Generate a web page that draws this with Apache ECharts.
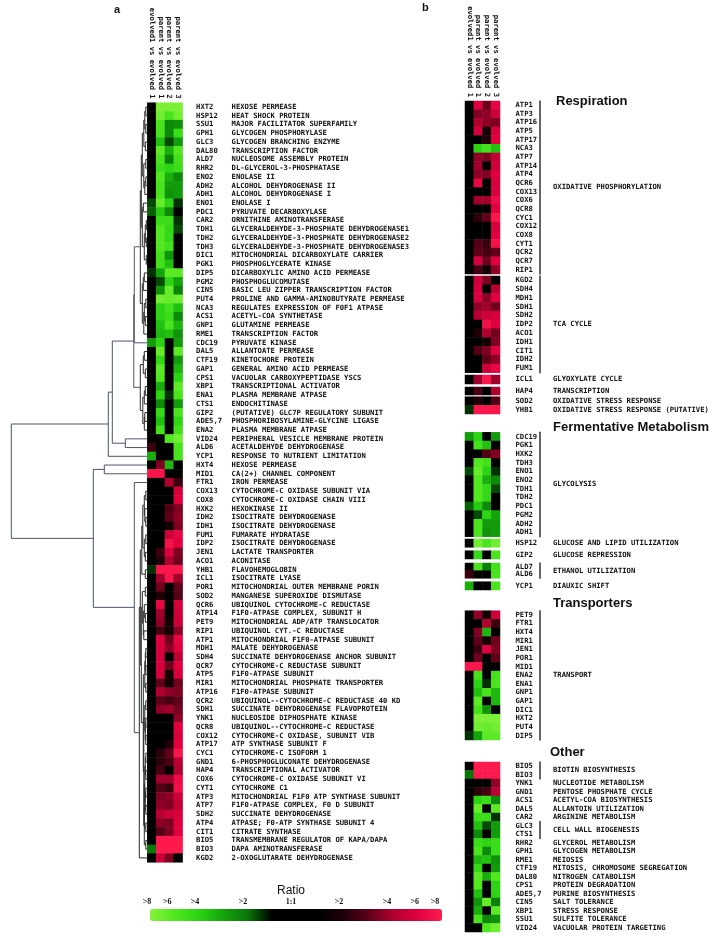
<!DOCTYPE html>
<html>
<head>
<meta charset="utf-8">
<style>html,body{margin:0;padding:0;background:#fff}#c{width:714px;height:938px}</style>
<script src="https://cdn.jsdelivr.net/npm/echarts@6/dist/echarts.min.js"></script>
</head>
<body>
<div id="c"></div>
<script>
const columnNames = ['evolved1 vs evolved 1','parent vs evolved 1','parent vs evolved 2','parent vs evolved 3'];

const genes = ['HXT2','HSP12','SSU1','GPH1','GLC3','DAL80','ALD7','RHR2','ENO2','ADH2',
'ADH1','ENO1','PDC1','CAR2','TDH1','TDH2','TDH3','DIC1','PGK1','DIP5',
'PGM2','CIN5','PUT4','NCA3','ACS1','GNP1','RME1','CDC19','DAL5','CTF19',
'GAP1','CPS1','XBP1','ENA1','CTS1','GIP2','ADE5,7','ENA2','VID24','ALD6',
'YCP1','HXT4','MID1','FTR1','COX13','COX8','HXK2','IDH2','IDH1','FUM1',
'IDP2','JEN1','ACO1','YHB1','ICL1','POR1','SOD2','QCR6','ATP14','PET9',
'RIP1','ATP1','MDH1','SDH4','QCR7','ATP5','MIR1','ATP16','QCR2','SDH1',
'YNK1','QCR8','COX12','ATP17','CYC1','GND1','HAP4','COX6','CYT1','ATP3',
'ATP7','SDH2','ATP4','CIT1','BIO5','BIO3','KGD2'];

const descriptions = ['HEXOSE PERMEASE','HEAT SHOCK PROTEIN','MAJOR FACILITATOR SUPERFAMILY','GLYCOGEN PHOSPHORYLASE','GLYCOGEN BRANCHING ENZYME','TRANSCRIPTION FACTOR','NUCLEOSOME ASSEMBLY PROTEIN','DL-GLYCEROL-3-PHOSPHATASE','ENOLASE II','ALCOHOL DEHYDROGENASE II',
'ALCOHOL DEHYDROGENASE I','ENOLASE I','PYRUVATE DECARBOXYLASE','ORNITHINE AMINOTRANSFERASE','GLYCERALDEHYDE-3-PHOSPHATE DEHYDROGENASE1','GLYCERALDEHYDE-3-PHOSPHATE DEHYDROGENASE2','GLYCERALDEHYDE-3-PHOSPHATE DEHYDROGENASE3','MITOCHONDRIAL DICARBOXYLATE CARRIER','PHOSPHOGLYCERATE KINASE','DICARBOXYLIC AMINO ACID PERMEASE',
'PHOSPHOGLUCOMUTASE','BASIC LEU ZIPPER TRANSCRIPTION FACTOR','PROLINE AND GAMMA-AMINOBUTYRATE PERMEASE','REGULATES EXPRESSION OF F0F1 ATPASE','ACETYL-COA SYNTHETASE','GLUTAMINE PERMEASE','TRANSCRIPTION FACTOR','PYRUVATE KINASE','ALLANTOATE PERMEASE','KINETOCHORE PROTEIN',
'GENERAL AMINO ACID PERMEASE','VACUOLAR CARBOXYPEPTIDASE YSCS','TRANSCRIPTIONAL ACTIVATOR','PLASMA MEMBRANE ATPASE','ENDOCHITINASE','(PUTATIVE) GLC7P REGULATORY SUBUNIT','PHOSPHORIBOSYLAMINE-GLYCINE LIGASE','PLASMA MEMBRANE ATPASE','PERIPHERAL VESICLE MEMBRANE PROTEIN','ACETALDEHYDE DEHYDROGENASE',
'RESPONSE TO NUTRIENT LIMITATION','HEXOSE PERMEASE','CA(2+) CHANNEL COMPONENT','IRON PERMEASE','CYTOCHROME-C OXIDASE SUBUNIT VIA','CYTOCHROME-C OXIDASE CHAIN VIII','HEXOKINASE II','ISOCITRATE DEHYDROGENASE','ISOCITRATE DEHYDROGENASE','FUMARATE HYDRATASE',
'ISOCITRATE DEHYDROGENASE','LACTATE TRANSPORTER','ACONITASE','FLAVOHEMOGLOBIN','ISOCITRATE LYASE','MITOCHONDRIAL OUTER MEMBRANE PORIN','MANGANESE SUPEROXIDE DISMUTASE','UBIQUINOL CYTOCHROME-C REDUCTASE','F1F0-ATPASE COMPLEX, SUBUNIT H','MITOCHONDRIAL ADP/ATP TRANSLOCATOR',
'UBIQUINOL CYT.-C REDUCTASE','MITOCHONDRIAL F1F0-ATPASE SUBUNIT','MALATE DEHYDROGENASE','SUCCINATE DEHYDROGENASE ANCHOR SUBUNIT','CYTOCHROME-C REDUCTASE SUBUNIT','F1F0-ATPASE SUBUNIT','MITOCHONDRIAL PHOSPHATE TRANSPORTER','F1F0-ATPASE SUBUNIT','UBIQUINOL--CYTOCHROME-C REDUCTASE 40 KD','SUCCINATE DEHYDROGENASE FLAVOPROTEIN',
'NUCLEOSIDE DIPHOSPHATE KINASE','UBIQUINOL--CYTOCHROME-C REDUCTASE','CYTOCHROME-C OXIDASE, SUBUNIT VIB','ATP SYNTHASE SUBUNIT F','CYTOCHROME-C ISOFORM 1','6-PHOSPHOGLUCONATE DEHYDROGENASE','TRANSCRIPTIONAL ACTIVATOR','CYTOCHROME-C OXIDASE SUBUNIT VI','CYTOCHROME C1','MITOCHONDRIAL F1F0 ATP SYNTHASE SUBUNIT',
'F1F0-ATPASE COMPLEX, F0 D SUBUNIT','SUCCINATE DEHYDROGENASE','ATPASE; F0-ATP SYNTHASE SUBUNIT 4','CITRATE SYNTHASE','TRANSMEMBRANE REGULATOR OF KAPA/DAPA','DAPA AMINOTRANSFERASE','2-OXOGLUTARATE DEHYDROGENASE'];

const evolvedVsEvolved1 = [0,0,0,0,0,0,0,0,0,0,
0,-0.8,-0.9,0,0,0,0,0,0,-0.7,
0,0,0,0,0,0,0,-1.4,0,0,
0,0,0,0,0,0,0,0,0,1.2,
-1.6,0,2.9,0,0,0,0,0,0,0,
0,0,0,-0.7,0,0,0,0,0,0,
0,0,0,0,0,0,0,0,0,0,
0,0,0,0,0,0,0,0,0,0,
0,0,0,0,0,-1,0];
const parentVsEvolved1 = [-2.9,-2.8,-2.4,-2.4,-1.8,-2.6,-2.4,-2.2,-2.5,-2.4,
-2.4,-2.7,-1.9,-2.2,-2.5,-2.5,-2.5,-2.3,-2.3,-1.5,
-0.8,-1.3,-2.8,-2,-2,-1.8,-1.7,-2,-2.7,-2.1,
-2.6,-2.5,-1.6,-2,-1.2,-2.1,-1.8,-2.3,0,0,
0,1.7,2.9,0,0,0,0,0,0,0,
0,1.2,1,2.9,1.9,1.6,1,2.6,1.9,1.8,
1.3,2.5,2.4,2.4,2.4,2.4,1.5,2,1.5,1.8,
0,0.5,0.5,0,1.1,1.1,1.3,1.9,1.4,1.7,
1.8,2.1,1.8,1.4,2.95,2.95,2.3];
const parentVsEvolved2 = [-2.9,-2.4,-1.2,-1.2,-0.8,-1.6,-1.1,-2,-1.6,-1.4,
-1.3,-2,-1.2,-2.2,-2.1,-2.1,-2.3,-1.3,-1.8,-2.6,
-2,-2.7,-2.7,-2.3,-2.2,-2.4,-1.8,0,0,0,
0,-0.5,0,-0.7,0,0,0,0,-2.5,0,
0,-1.7,0,2,0,0,1.4,1.5,0.8,2.3,
2.8,2.5,2,2.9,2.9,0,0,0,0,0.8,
0.8,1.6,1.8,0.5,1.6,0.8,0.8,1.8,1.3,1.9,
0,0,0,1,1.5,1.3,0,1.9,1.2,1.8,
1.7,2.3,1.7,1.7,2.95,2.95,1.7];
const parentVsEvolved3 = [-2.9,-2.8,-1.3,-2.2,-1.4,-2.5,-2.3,-2.2,-1.2,-1.4,
-1.4,-0.7,0,-0.7,-0.8,0,-0.5,0,0,-2.6,
-1.5,-1.1,-2.8,-1.8,-1.2,-1.7,-1.3,-1.4,-2.6,-1.4,
-1.7,-2,-2.6,-2.4,-1.4,-2.4,-2,-2.3,-2.8,-2.4,
-2.4,0,0,1.2,2.4,2.5,1.7,1.8,1.7,2.6,
2.5,1.7,1.6,2.9,1.9,1.5,1.4,2.4,2.3,2.3,
1.8,2.6,2.5,2.1,2.5,2.4,1.6,1.7,1.5,1.6,
1.8,2.5,2.4,2.5,2.9,2.1,2,2.7,2.8,2.3,
2.2,2.4,2.5,2.5,2.95,2.95,0.4];

// dendrogram merges: [height, top row, bottom row, height of top child, height of bottom child]
const dendrogramLinks = [
[1.5,0.5,1.5,0,0],[1.5,2.5,3.5,0,0],[2.5,1,3,1.5,1.5],[2,4.5,5.5,0,0],[3.5,2,5,2.5,2],
[1.5,6.5,7.5,0,0],[1.5,8.5,9.5,0,0],[2.5,9,10.5,1.5,0],[3.5,7,9.75,1.5,2.5],[5,3.5,8.4,3.5,3.5],
[4,11.5,12.5,0,0],[1,13.5,14.5,0,0],[1,15.5,16.5,0,0],[2,14,16,1,1],[1,17.5,18.5,0,0],[3,15,18,2,1],[5,12,16.5,4,3],[6,6,14.25,5,5],
[3,19.5,20.5,0,0],[4,20,21.5,3,0],[1.5,22.5,23.5,0,0],[2,24.5,25.5,0,0],[3,23,25,1.5,2],[3.5,24,26.5,3,0],[5,20.75,25.25,4,3.5],[7,10.1,23,6,5],
[13,16.5,27.5,7,0],
[3,28.5,29.5,0,0],[2,30.5,31.5,0,0],[4,29,31,3,2],[2,32.5,33.5,0,0],[3,33,34.5,2,0],[2.5,35.5,36.5,0,0],[3,36,37.5,2.5,0],[4.5,33.75,36.75,3,3],[7,30,35.25,4,4.5],
[13.5,22,32.6,13,7],[22,38.5,39.5,0,0],[35,27.3,39,13.5,22],[39,33.15,40.5,35,0],
[43,41.5,42.5,0,0],
[1.5,44.5,45.5,0,0],[1.5,47.5,48.5,0,0],[2.5,46.5,48,0,1.5],[3,45,47.25,1.5,2.5],[1.5,49.5,50.5,0,0],[2,51.5,52.5,0,0],[3,50,52,1.5,2],[4.5,46.1,51,3,3],[2,53.5,54.5,0,0],[5.5,48.5,54,4.5,2],
[2,55.5,56.5,0,0],[2,58.5,59.5,0,0],[3,57.5,59,0,2],[3.5,60.5,61.5,0,0],[4,58.25,61,3,3.5],[5,56,59.6,2,4],
[1.5,62.5,63.5,0,0],[1.5,64.5,65.5,0,0],[2,63,65,1.5,1.5],[1.5,66.5,67.5,0,0],[2.5,64,67,2,1.5],[1.5,68.5,69.5,0,0],[1.5,70.5,71.5,0,0],[1.5,72.5,73.5,0,0],[2,71,73,1.5,1.5],[2.5,69,72,1.5,2],
[1.5,74.5,75.5,0,0],[1.5,76.5,77.5,0,0],[2,75,77,1.5,1.5],[1.5,78.5,79.5,0,0],[1.5,80.5,81.5,0,0],[2,79,81,1.5,1.5],[2.5,76,80,2,2],[1.5,82.5,83.5,0,0],[3,78,83,2.5,1.5],[1.5,84.5,85.5,0,0],[3,80.5,85,3,1.5],[3.5,70.5,82.75,2.5,3],[4,65.5,76.6,2.5,3.5],
[6,57.8,71,5,4],[7,51.25,64.4,5.5,6],[8,57.8,86.5,7,0],[13,43.5,72.15,0,8],[54,42,57.8,43,13],[136,36.8,49.9,39,54]
];

// panel b groups
const oxphosGenes = ['ATP1','ATP3','ATP16','ATP5','ATP17','NCA3','ATP7','ATP14','ATP4','QCR6','COX13','COX6','QCR8','CYC1','COX12','COX8','CYT1','QCR2','QCR7','RIP1'];
const tcaGenes = ['KGD2','SDH4','MDH1','SDH1','SDH2','IDP2','ACO1','IDH1','CIT1','IDH2','FUM1'];
const glycolysisGenes = ['CDC19','PGK1','HXK2','TDH3','ENO1','ENO2','TDH1','TDH2','PDC1','PGM2','ADH2','ADH1'];
const transportGenes = ['PET9','FTR1','HXT4','MIR1','JEN1','POR1','MID1','ENA2','ENA1','GNP1','GAP1','DIC1','HXT2','PUT4','DIP5'];
const otherGenesA = ['YNK1','GND1','ACS1','DAL5','CAR2'];
const otherLabelsA = ['NUCLEOTIDE METABOLISM','PENTOSE PHOSPHATE CYCLE','ACETYL-COA BIOSYNTHESIS','ALLANTOIN UTILIZATION','ARGININE METABOLISM'];
const otherGenesB = ['RHR2','GPH1','RME1','CTF19','DAL80','CPS1','ADE5,7','CIN5','XBP1','SSU1','VID24'];
const otherLabelsB = ['GLYCEROL METABOLISM','GLYCOGEN METABOLISM','MEIOSIS','MITOSIS, CHROMOSOME SEGREGATION','NITROGEN CATABOLISM','PROTEIN DEGRADATION','PURINE BIOSYNTHESIS','SALT TOLERANCE','STRESS RESPONSE','SULFITE TOLERANCE','VACUOLAR PROTEIN TARGETING'];

const legendTickValues = [-3,-2.58,-2,-1,0,1,2,2.58,3];
const legendTickLabels = ['>8','>6','>4','>2','1:1','>2','>4','>6','>8'];
const sectionTitles = ['Respiration','Fermentative Metabolism','Transporters','Other'];

// layout
const panelBGroups = [
 {genes:oxphosGenes, labels:['OXIDATIVE PHOSPHORYLATION'], bar:true, top:101, bottom:274},
 {genes:tcaGenes, labels:['TCA CYCLE'], bar:true, top:276, bottom:372.7},
 {genes:['ICL1'], labels:['GLYOXYLATE CYCLE'], top:375, bottom:384},
 {genes:['HAP4'], labels:['TRANSCRIPTION'], top:387, bottom:395},
 {genes:['SOD2','YHB1'], labels:['OXIDATIVE STRESS RESPONSE','OXIDATIVE STRESS RESPONSE (PUTATIVE)'], top:396.7, bottom:414},
 {genes:glycolysisGenes, labels:['GLYCOLYSIS'], bar:true, top:432.3, bottom:536.7},
 {genes:['HSP12'], labels:['GLUCOSE AND LIPID UTILIZATION'], top:539, bottom:547.3},
 {genes:['GIP2'], labels:['GLUCOSE REPRESSION'], top:550.7, bottom:559},
 {genes:['ALD7','ALD6'], labels:['ETHANOL UTILIZATION'], bar:true, top:563, bottom:578.3},
 {genes:['YCP1'], labels:['DIAUXIC SHIFT'], top:581.7, bottom:590},
 {genes:transportGenes, labels:['TRANSPORT'], bar:true, top:610.7, bottom:740},
 {genes:['BIO5','BIO3'], labels:['BIOTIN BIOSYNTHESIS'], bar:true, top:762, bottom:779},
 {genes:otherGenesA, labels:otherLabelsA, top:779, bottom:821.5},
 {genes:['GLC3','CTS1'], labels:['CELL WALL BIOGENESIS'], bar:true, top:821.5, bottom:838.5},
 {genes:otherGenesB, labels:otherLabelsB, top:838.5, bottom:932}
];
const MONO = {fontFamily:'"DejaVu Sans Mono"', fontWeight:'bold', fontSize:7.2, color:'#111'};
const columns = [evolvedVsEvolved1, parentVsEvolved1, parentVsEvolved2, parentVsEvolved3];
const heatCells = list => {
  const out = [];
  list.forEach((g, r) => { const i = genes.indexOf(g); columns.forEach((c, k) => out.push([k, r, c[i]])); });
  return out;
};

const grid = [], xAxis = [], yAxis = [], series = [];
function addHeat(left, width, top, height, list, showCols, geneMargin, labels, labelOffset, labelMargin, bar) {
  const g = grid.length;
  grid.push({left, top, width, height, outerBoundsMode:'none', containLabel:false});
  xAxis.push({gridIndex:g, type:'category', position:'top', data:columnNames, show:showCols,
    axisLine:{show:false}, axisTick:{show:false}, splitLine:{show:false},
    axisLabel:{show:showCols, interval:0, rotate:90, margin:4, ...MONO}});
  const yi = yAxis.length;
  yAxis.push({gridIndex:g, type:'category', position:'right', inverse:true, data:list,
    axisLine:{show:false}, axisTick:{show:false}, splitLine:{show:false},
    axisLabel:{interval:0, margin:geneMargin, ...MONO}});
  yAxis.push({gridIndex:g, type:'category', position:'right', inverse:true, data:labels, offset:labelOffset,
    axisLine:{show:!!bar, onZero:false, lineStyle:{color:'#333', width:1.5}}, axisTick:{show:false}, splitLine:{show:false},
    axisLabel:{interval:0, margin:labelMargin, ...MONO}});
  series.push({type:'heatmap', xAxisIndex:xAxis.length-1, yAxisIndex:yi, data:heatCells(list),
    silent:true, progressive:0, emphasis:{disabled:true}, itemStyle:{borderWidth:0}});
}
addHeat(147.3, 35.3, 102.7, 759.6, genes, true, 13.5, descriptions, 35, 14, false);
panelBGroups.forEach((p, i) => addHeat(465, 35, p.top, p.bottom - p.top, p.genes, i === 0, 15.5, p.labels, 40, 13, p.bar));
const heatIdx = series.map((_, i) => i);

// dendrogram
const dg = grid.length;
grid.push({left:0, top:102.7, width:147.3, height:759.6, outerBoundsMode:'none'});
xAxis.push({gridIndex:dg, type:'value', min:0, max:147.3, inverse:true, show:false});
yAxis.push({gridIndex:dg, type:'value', min:0, max:87, inverse:true, show:false});
series.push({type:'custom', xAxisIndex:xAxis.length-1, yAxisIndex:yAxis.length-1, silent:true, clip:false,
  encode:{x:[0,3,4], y:[1,2]}, data:dendrogramLinks,
  renderItem(params, api) {
    const h = api.value(0), r0 = api.value(1), r1 = api.value(2), c0 = api.value(3), c1 = api.value(4);
    const pts = [[c0,r0],[h,r0],[h,r1],[c1,r1]].map(p => api.coord(p));
    return {type:'polyline', shape:{points:pts}, style:{fill:null, stroke: h > 8 ? '#4c5468' : '#2a2a2a', lineWidth:1}};
  }});

// colour legend axis
const lg = grid.length;
grid.push({left:147, top:909, width:288, height:12, outerBoundsMode:'none'});
xAxis.push({gridIndex:lg, type:'value', position:'top', min:-3, max:3, name:'Ratio', nameLocation:'middle', nameGap:10,
  nameTextStyle:{fontFamily:'"Liberation Sans"', fontSize:12, color:'#111'},
  axisLine:{show:false}, axisTick:{show:false}, splitLine:{show:false},
  axisLabel:{margin:3, customValues:legendTickValues, fontFamily:'"Liberation Serif"', fontWeight:'bold', fontSize:8, color:'#111',
    formatter:v => legendTickLabels[legendTickValues.indexOf(v)]}});
yAxis.push({gridIndex:lg, type:'value', show:false, min:0, max:1});

const titleStyle = {fontFamily:'"Liberation Sans"', fontWeight:'bold', fontSize:13, fill:'#111', textVerticalAlign:'middle'};
const sectionPos = [[556,101],[553,427],[553,603],[550,752]];
const graphic = sectionTitles.map((t, i) => ({type:'text', x:sectionPos[i][0], y:sectionPos[i][1], style:{text:t, ...titleStyle}}));
graphic.push({type:'text', x:114, y:10, style:{text:'a', ...titleStyle, fontSize:11}});
graphic.push({type:'text', x:422, y:8, style:{text:'b', ...titleStyle, fontSize:11}});

const chart = echarts.init(document.getElementById('c'), null, {renderer:'canvas', width:714, height:938});
chart.setOption({
  backgroundColor:'#fff', animation:false, tooltip:{show:false},
  grid, xAxis, yAxis, series, graphic,
  visualMap:{type:'continuous', seriesIndex:heatIdx, min:-3, max:3, orient:'horizontal', left:150, top:909,
    itemWidth:12, itemHeight:292, padding:0, calculable:false, hoverLink:false, text:null, showLabel:false,
    inRange:{color:['#86f23c','#52e820','#2cd414','#14a40c','#0a7808','#000000','#000000','#000000','#200008','#600018','#b00030','#e00040','#ff1c50']}}
});
</script>
</body>
</html>
